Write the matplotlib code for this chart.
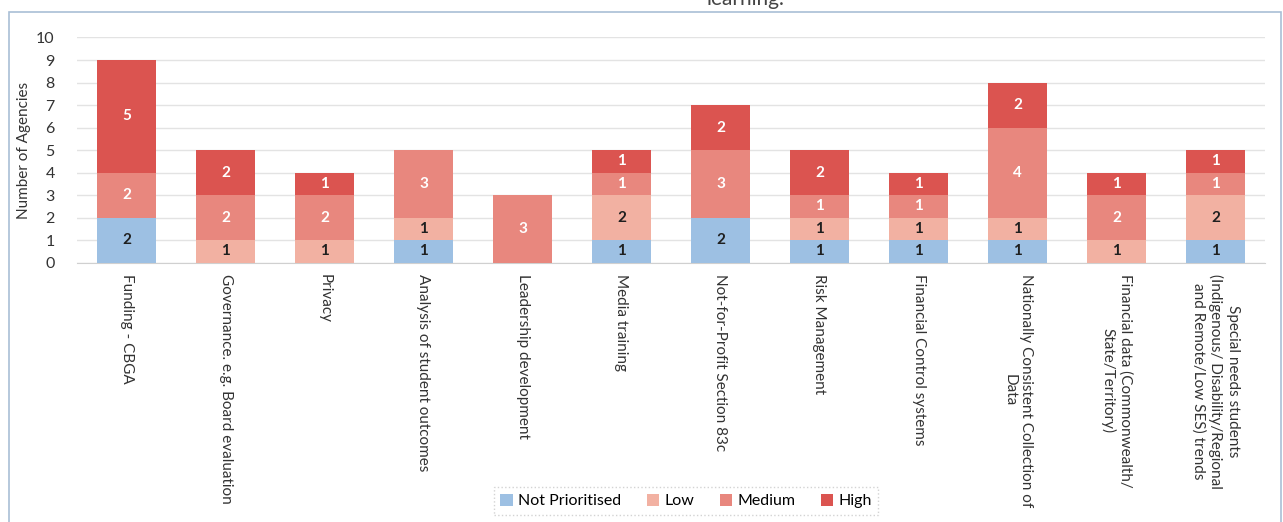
import matplotlib
matplotlib.use("Agg")
import matplotlib.pyplot as plt
from matplotlib.patches import Rectangle
import numpy as np

plt.rcParams['font.family'] = ['Lato', 'DejaVu Sans']

categories = [
    'Funding - CBGA',
    'Governance. e.g. Board evaluation',
    'Privacy',
    'Analysis of student outcomes',
    'Leadership development',
    'Media training',
    'Not-for-Profit Section 83c',
    'Risk Management',
    'Financial Control systems',
    'Nationally Consistent Collection of\nData',
    'Financial data (Commonwealth/\nState/Territory)',
    'Special needs students\n(Indigenous/ Disability/Regional\nand Remote/Low SES) trends',
]

not_prioritised = [2, 0, 0, 1, 0, 1, 2, 1, 1, 1, 0, 1]
low = [0, 1, 1, 1, 0, 2, 0, 1, 1, 1, 1, 2]
medium = [2, 2, 2, 3, 3, 1, 3, 1, 1, 4, 2, 1]
high = [5, 2, 1, 0, 0, 1, 2, 2, 1, 2, 1, 1]

series_names = ['Not Prioritised', 'Low', 'Medium', 'High']
series_colors = ['#9dc0e3', '#f2b1a2', '#e8877e', '#db5450']
label_colors = ['#1f1f1f', '#1f1f1f', 'white', 'white']


def StackedBars():
    fig = plt.figure(figsize=(12.83, 5.22), dpi=100)
    ax = fig.add_axes([77 / 1283, 1 - 262.7 / 522, 1188 / 1283, 225.2 / 522])

    x = np.arange(len(categories))
    bottom = np.zeros(len(categories))
    handles = []
    for vals, name, col, tcol in zip([not_prioritised, low, medium, high],
                                     series_names, series_colors, label_colors):
        vals = np.array(vals)
        bars = ax.bar(x, vals, width=0.59, bottom=bottom, color=col, label=name, zorder=3)
        handles.append(bars)
        for xi, v, b in zip(x, vals, bottom):
            if v > 0:
                ax.text(xi, b + v / 2, str(v), ha='center', va='center',
                        color=tcol, fontsize=11, fontweight='bold', zorder=4)
        bottom = bottom + vals

    ax.set_xlim(-0.5, 11.5)
    ax.set_ylim(0, 10)
    ax.set_yticks(range(0, 11))
    ax.yaxis.grid(True, color='#e3e3e3', linewidth=1, zorder=0)
    for s in ['top', 'right', 'left']:
        ax.spines[s].set_visible(False)
    ax.spines['bottom'].set_color('#d0d0d0')
    ax.tick_params(axis='both', length=0, colors='#333333')
    ax.tick_params(axis='y', pad=16, labelsize=11.5)
    ax.tick_params(axis='x', pad=8)
    ax.set_xticks(x)
    ax.set_xticklabels(categories, rotation=270, ha='center', va='top',
                       multialignment='center', fontsize=11)
    ax.set_ylabel('Number of Agencies', fontsize=11, color='#333333', labelpad=4)

    leg = fig.legend(handles, series_names, loc='center', ncol=4,
                     bbox_to_anchor=(686 / 1283, 1 - 501 / 522), fontsize=11.5,
                     handlelength=0.8, handleheight=0.8, handletextpad=0.3,
                     columnspacing=1.6, frameon=True, fancybox=False)
    leg.get_frame().set_edgecolor('#c8c8c8')
    leg.get_frame().set_linestyle(':')
    leg.get_frame().set_linewidth(1.0)

    # chart border and the bottom of the cut-off title
    fig.patches.append(Rectangle((9 / 1283, -0.05), 1272 / 1283, 1 - 12 / 522 + 0.05,
                                 transform=fig.transFigure, fill=False,
                                 edgecolor='#a9bfd6', linewidth=1.2))
    fig.text(745 / 1283, 1 - 5 / 522, 'learning.', ha='center', va='baseline',
             fontsize=15, color='#444444')

    fig.savefig('out.png', dpi=100)


StackedBars()
